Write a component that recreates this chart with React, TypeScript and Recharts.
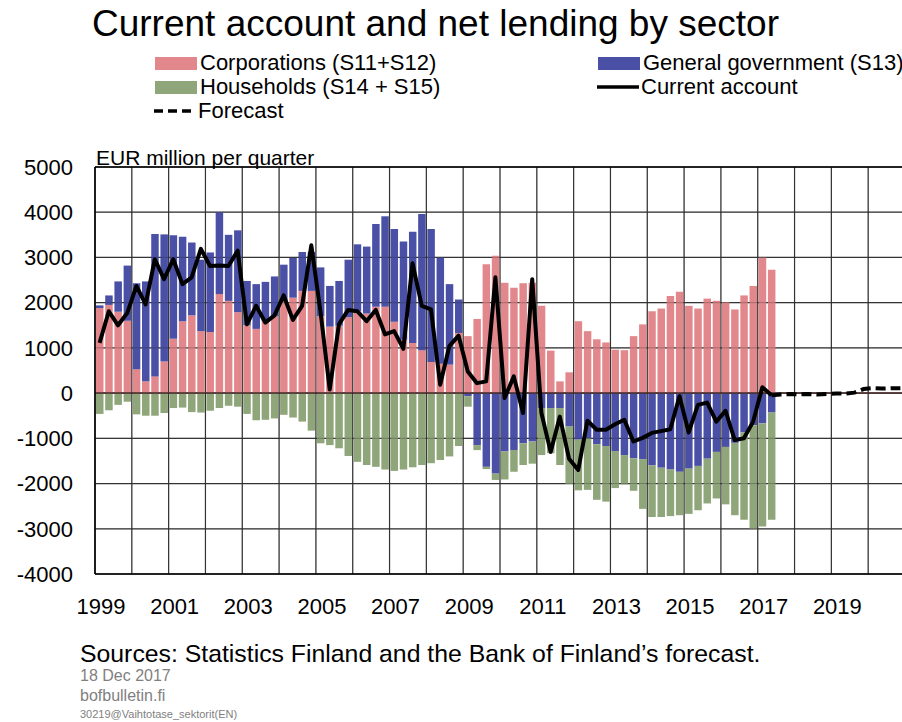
import React from "react";
import {
  Bar,
  CartesianGrid,
  ComposedChart,
  Line,
  ReferenceLine,
  XAxis,
  YAxis,
} from "recharts";

// categories
const years = [
  1999, 2000, 2001, 2002, 2003, 2004, 2005, 2006, 2007, 2008, 2009, 2010, 2011,
  2012, 2013, 2014, 2015, 2016, 2017, 2018, 2019, 2020,
];
const quarterNames = ["Q1", "Q2", "Q3", "Q4"];
const yearLabels = [
  "1999", "2001", "2003", "2005", "2007", "2009", "2011", "2013", "2015", "2017", "2019",
];
const yTicks = [-4000, -3000, -2000, -1000, 0, 1000, 2000, 3000, 4000, 5000];

// EUR million per quarter, 1999Q1 - 2017Q2
const corporations = [
  1880, 1950, 1800, 1600, 530, 260, 370, 700, 1200, 1590, 1720, 1370,
  1350, 2190, 2040, 1790, 1500, 1420, 1590, 1700, 2030, 2110, 2260, 2260,
  1700, 1470, 1490, 1680, 1810, 1760, 1910, 1910, 1580, 1180, 1110, 950,
  690, 650, 630, 1330, 1260, 1640, 2850, 3040, 2440, 2330, 2430, 2440,
  1930, 940, 260, 460, 1590, 1370, 1190, 1120, 960, 950, 1260, 1520,
  1810, 1870, 2150, 2240, 1930, 1870, 2090, 2040, 2010, 1850, 2160, 2370,
  3000, 2730,
];
const government = [
  60, 210, 670, 1220, 1900, 2210, 3150, 2810, 2290, 1870, 1610, 1580,
  1760, 1810, 1460, 1810, 980, 990, 870, 880, 810, 880, 860, 860,
  1080, 900, 990, 1270, 1480, 1480, 1830, 2000, 2050, 2170, 2460, 3010,
  2940, 2350, 1780, 740, -70, -1150, -1630, -1780, -1290, -1260, -1110, -1070,
  -330, -330, -330, -740, -1030, -1000, -1130, -1170, -1280, -1370, -1440, -1460,
  -1600, -1650, -1690, -1740, -1670, -1610, -1450, -1300, -1190, -1100, -870, -710,
  -670, -430,
];
const households = [
  -460, -380, -260, -190, -470, -500, -500, -440, -330, -320, -420, -430,
  -390, -330, -280, -300, -460, -600, -590, -560, -480, -540, -630, -830,
  -1110, -1150, -1220, -1390, -1520, -1590, -1630, -1690, -1720, -1690, -1640, -1590,
  -1550, -1480, -1400, -1170, -230, -110, -50, -140, -620, -480, -480, -490,
  -1040, -1000, -1260, -1270, -1120, -1140, -1230, -1230, -820, -650, -720, -1100,
  -1140, -1090, -1030, -960, -1000, -980, -990, -1030, -1270, -1600, -1930, -2290,
  -2280, -2370,
];
const currentAccount = [
  1110, 1810, 1500, 1770, 2370, 1960, 2960, 2520, 2960, 2410, 2560, 3190,
  2810, 2820, 2810, 3150, 1520, 1930, 1560, 1720, 2160, 1620, 1930, 3270,
  1800, 80, 1520, 1840, 1810, 1590, 1840, 1300, 1370, 980, 2870, 1930,
  1850, 185, 1040, 1270, 480, 220, 260, 2560, -110, 370, -440, 2520,
  -440, -1300, -520, -1450, -1700, -610, -810, -810, -690, -590, -1070, -990,
  -880, -840, -800, -70, -870, -260, -210, -630, -390, -1040, -1000, -630,
  130, -50,
];
// 2017Q2 - 2020Q4
const forecast = [
  -50, -30, -20, -30, -20, -30, -20, -10, -10, 10, 90, 110, 100, 110, 110,
];

const quarters = years.flatMap((y) => quarterNames.map((q) => `${y}${q}`));
const forecastStart = currentAccount.length - 1;
const data = quarters.map((q, i) => ({
  q,
  t: i + 0.5,
  corporations: corporations[i] ?? null,
  government: government[i] ?? null,
  households: households[i] ?? null,
  currentAccount: currentAccount[i] ?? null,
  forecast: i >= forecastStart ? forecast[i - forecastStart] ?? null : null,
}));
const xTicks = years.map((_, i) => i * 4).concat(years.length * 4);

const FONT = "'Liberation Sans', Arial, sans-serif";

const YearTick = ({ x, y, payload }: any) => {
  const idx = payload.value / 4;
  const label = String(years[idx] ?? "");
  if (!yearLabels.includes(label)) return <g />;
  return (
    <text x={x + 6} y={y + 40} textAnchor="middle" fontSize={22} fill="#000" fontFamily={FONT}>
      {label}
    </text>
  );
};

const Swatch = ({ color }: { color: string }) => (
  <span style={{ display: "inline-block", width: 42, height: 13, background: color, marginRight: 3 }} />
);
const LineKey = ({ dashed }: { dashed?: boolean }) => (
  <svg width={45} height={14}>
    <line x1={1} x2={43} y1={7} y2={7} stroke="#000" strokeWidth={3.5} strokeDasharray={dashed ? "9 5" : undefined} />
  </svg>
);

const PINK = "#E2888C";
const BLUE = "#4A50A6";
const GREEN = "#8FA57A";

export default function App() {
  const text = (top: number, left: number, size: number, content: React.ReactNode, color = "#000") => (
    <div
      style={{
        position: "absolute",
        top,
        left,
        fontSize: size,
        lineHeight: 1,
        color,
        fontFamily: FONT,
        whiteSpace: "nowrap",
        display: "flex",
        alignItems: "center",
      }}
    >
      {content}
    </div>
  );

  return (
    <div
      style={{
        position: "absolute",
        left: 0,
        top: 0,
        width: 902,
        height: 722,
        overflow: "hidden",
        background: "#fff",
        fontFamily: FONT,
      }}
    >
      <ComposedChart
        width={905}
        height={722}
        data={data}
        stackOffset="sign"
        margin={{ top: 167, right: 0, bottom: 108, left: 0 }}
      >
        <CartesianGrid stroke="#3c3c3c" strokeWidth={1.2} />
        <XAxis
          dataKey="t"
          type="number"
          domain={[0, 88]}
          ticks={xTicks}
          interval={0}
          axisLine={false}
          tickLine={false}
          tickSize={0}
          tickMargin={0}
          height={40}
          tick={<YearTick />}
        />
        <YAxis
          type="number"
          domain={[-4000, 5000]}
          ticks={yTicks}
          interval={0}
          width={95}
          axisLine={false}
          tickLine={false}
          tickSize={0}
          tickMargin={22}
          tick={{ fontSize: 22, fill: "#000", fontFamily: FONT }}
        />
        <Bar dataKey="corporations" stackId="s" fill={PINK} barSize={7.5} isAnimationActive={false} />
        <Bar dataKey="government" stackId="s" fill={BLUE} barSize={7.5} isAnimationActive={false} />
        <Bar dataKey="households" stackId="s" fill={GREEN} barSize={7.5} isAnimationActive={false} />
        {yTicks.map((v) => (
          <ReferenceLine key={`h${v}`} y={v} stroke="#222" strokeOpacity={0.3} strokeWidth={1} />
        ))}
        {xTicks.map((v) => (
          <ReferenceLine key={`v${v}`} x={v} stroke="#222" strokeOpacity={0.3} strokeWidth={1} />
        ))}
        <ReferenceLine y={0} stroke="#4a2c2c" strokeWidth={1.5} />
        <ReferenceLine y={5000} stroke="#000" strokeWidth={1.5} />
        <ReferenceLine y={-4000} stroke="#000" strokeWidth={1.5} />
        <ReferenceLine x={0} stroke="#000" strokeWidth={1.5} />
        <Line
          dataKey="currentAccount"
          type="linear"
          stroke="#000"
          strokeWidth={4}
          dot={false}
          strokeLinejoin="round"
          isAnimationActive={false}
        />
        <Line
          dataKey="forecast"
          type="linear"
          stroke="#000"
          strokeWidth={4}
          strokeDasharray="10 5"
          dot={false}
          isAnimationActive={false}
        />
      </ComposedChart>

      {text(5, 92, 37, "Current account and net lending by sector")}
      {text(52, 155, 22, <><Swatch color={PINK} />Corporations (S11+S12)</>)}
      {text(52, 598, 22, <><Swatch color={BLUE} />General government (S13)</>)}
      {text(76, 155, 22, <><Swatch color={GREEN} />Households (S14 + S15)</>)}
      {text(76, 596, 22, <><LineKey />Current account</>)}
      {text(100, 153, 22, <><LineKey dashed />Forecast</>)}
      {text(147, 96, 21, "EUR million per quarter")}
      {text(642, 80, 24.8, "Sources: Statistics Finland and the Bank of Finland\u2019s forecast.")}
      {text(668, 80, 16, "18 Dec 2017", "#7f7f7f")}
      {text(688, 80, 16, "bofbulletin.fi", "#7f7f7f")}
      {text(709, 80, 11, "30219@Vaihtotase_sektorit(EN)", "#7f7f7f")}
    </div>
  );
}
